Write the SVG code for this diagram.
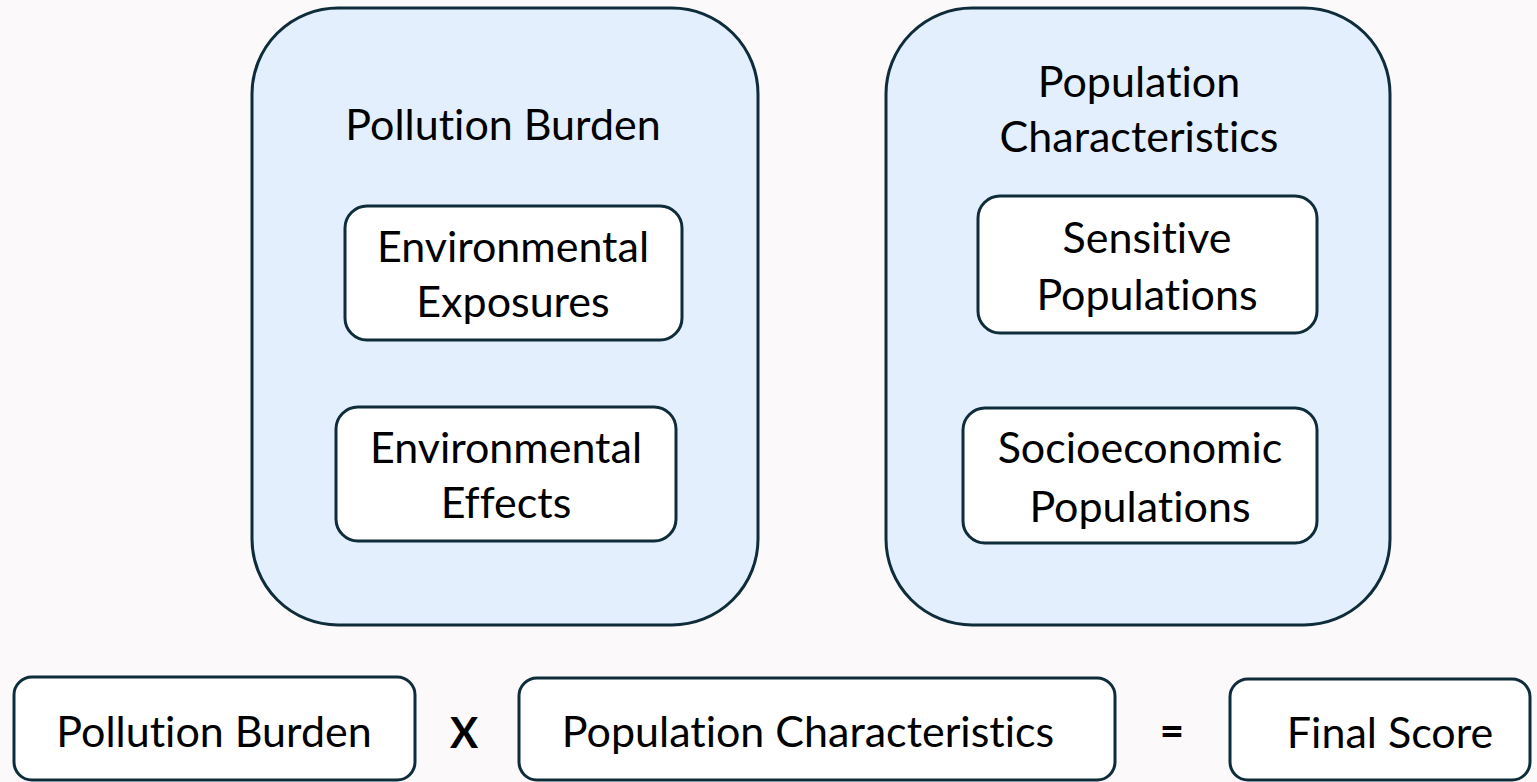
<svg xmlns="http://www.w3.org/2000/svg" width="1537" height="782" viewBox="0 0 1537 782">
<style>
.big{fill:#e3effd;stroke:#0f2c3a;stroke-width:3}
.box{fill:#ffffff;stroke:#0f2c3a;stroke-width:3}
text{font-family:Lato,"Open Sans",sans-serif;font-size:43px;fill:#000;text-anchor:middle;font-variant-ligatures:none}
.op{font-weight:bold;font-size:42px}
</style>
<rect x="0" y="0" width="1537" height="782" fill="#fbf9fa"/>
<g id="pollution-burden-group">
<rect class="big" x="252" y="8" width="506" height="617" rx="86" ry="86"/>
<text x="503" y="140">Pollution Burden</text>
</g>
<g id="env-exposures">
<rect class="box" x="345" y="206" width="337" height="134" rx="22" ry="22"/>
<text x="513" y="262">Environmental</text>
<text x="513" y="317">Exposures</text>
</g>
<g id="env-effects">
<rect class="box" x="336" y="407" width="340" height="134" rx="22" ry="22"/>
<text x="506" y="463">Environmental</text>
<text x="506" y="518">Effects</text>
</g>
<g id="population-characteristics-group">
<rect class="big" x="886" y="8" width="504" height="617" rx="86" ry="86"/>
<text x="1139" y="97">Population</text>
<text x="1139" y="152">Characteristics</text>
</g>
<g id="sensitive-populations">
<rect class="box" x="978" y="196" width="339" height="137" rx="22" ry="22"/>
<text x="1147" y="253">Sensitive</text>
<text x="1147" y="310">Populations</text>
</g>
<g id="socioeconomic-populations">
<rect class="box" x="963" y="408" width="354" height="135" rx="22" ry="22"/>
<text x="1140" y="463">Socioeconomic</text>
<text x="1140" y="522">Populations</text>
</g>
<g id="formula-pollution-burden">
<rect class="box" x="14" y="677" width="401" height="103" rx="18" ry="18"/>
<text x="214" y="747">Pollution Burden</text>
</g>
<g id="formula-population-characteristics">
<rect class="box" x="519" y="678" width="596" height="102" rx="18" ry="18"/>
<text x="808" y="747">Population Characteristics</text>
</g>
<g id="formula-final-score">
<rect class="box" x="1230" y="679" width="300" height="101" rx="18" ry="18"/>
<text x="1390" y="748">Final Score</text>
</g>
<g id="connectors">
<text class="op" x="464" y="748">X</text>
<text class="op" x="1172" y="746">=</text>
</g>
</svg>
